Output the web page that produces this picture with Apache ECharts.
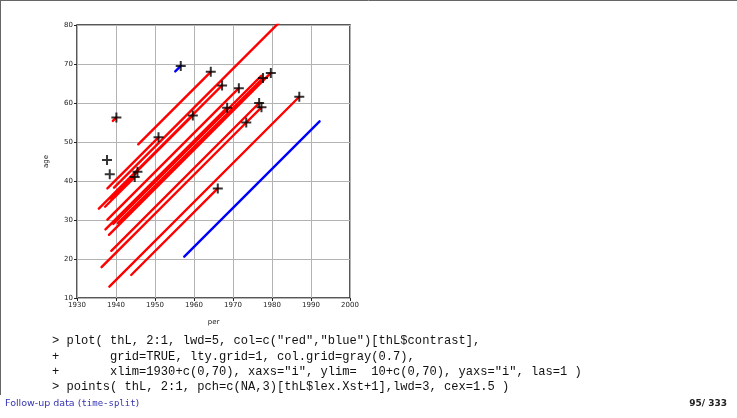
<!DOCTYPE html>
<html>
<head>
<meta charset="utf-8">
<script src="https://cdn.jsdelivr.net/npm/echarts@6/dist/echarts.min.js"></script>
<style>
html,body{margin:0;padding:0;background:#fff;}
#c{width:737px;height:418px;}
</style>
</head>
<body>
<div id="c"></div>
<script>
// Follow-up segments (Lexis lines): period and age at entry / exit
const startPer = [1945.7, 1939.5, 1935.6, 1939.0, 1937.8, 1937.3, 1939.3, 1940.5, 1938.2, 1938.8, 1936.3, 1973.4, 1938.3, 1943.9, 1937.8, 1939.2, 1937.7, 1938.4, 1937.2, 1938.6, 1957.5, 1955.2];
const startAge = [49.4, 38.3, 32.9, 36.1, 30.1, 27.6, 29.0, 29.2, 26.2, 22.1, 17.9, 55.0, 12.9, 15.9, 38.1, 55.4, 45.4, 41.75, 33.4, 35.5, 20.6, 68.1];
const endPer   = [1964.3, 1985.0, 1967.2, 1959.7, 1971.5, 1968.5, 1977.3, 1977.7, 1979.7, 1976.7, 1973.4, 1977.3, 1987.0, 1966.1, 1950.9, 1940.1, 1937.7, 1938.4, 1944.8, 1945.5, 1992.2, 1956.6];
const endAge   = [68.0, 83.8, 64.5, 56.8, 63.8, 58.8, 67.0, 66.4, 67.7, 60.0, 55.0, 58.9, 61.6, 38.1, 51.2, 56.3, 45.4, 41.75, 41.0, 42.4, 55.3, 69.5];
const contrast = [1, 1, 1, 1, 1, 1, 1, 1, 1, 1, 1, 1, 1, 1, 1, 1, 1, 1, 1, 1, 2, 2];
const exitState = [1, 0, 1, 1, 1, 1, 0, 1, 1, 1, 1, 1, 1, 1, 1, 1, 1, 1, 1, 1, 0, 1];
const xTicks = [1930, 1940, 1950, 1960, 1970, 1980, 1990, 2000];
const yTicks = [10, 20, 30, 40, 50, 60, 70, 80];
const codeLines = [
  '> plot( thL, 2:1, lwd=5, col=c("red","blue")[thL$contrast],',
  '+       grid=TRUE, lty.grid=1, col.grid=gray(0.7),',
  '+       xlim=1930+c(0,70), xaxs="i", ylim=  10+c(0,70), yaxs="i", las=1 )',
  '> points( thL, 2:1, pch=c(NA,3)[thL$lex.Xst+1],lwd=3, cex=1.5 )'
];
const footerLeft = 'Follow-up data (';
const footerMono = 'time-split';
const footerPage = '95/ 333';

const colors = ['#ff0000', '#0000ff'];
const series = [];
for (let i = 0; i < startPer.length; i++) {
  series.push({
    type: 'line',
    data: [[startPer[i], startAge[i]], [endPer[i], endAge[i]]],
    showSymbol: false,
    symbol: 'none',
    silent: true,
    clip: true,
    lineStyle: { color: colors[contrast[i] - 1], width: 2.4, cap: 'round' },
    z: 3
  });
}
const pts = [];
for (let i = 0; i < startPer.length; i++) {
  if (exitState[i] === 1) pts.push([endPer[i], endAge[i]]);
}
series.push({
  type: 'scatter',
  data: pts,
  symbol: 'path://M-0.2,-1H0.2V-0.2H1V0.2H0.2V1H-0.2V0.2H-1V-0.2H-0.2Z',
  symbolSize: 10,
  itemStyle: { color: '#000' },
  silent: true,
  z: 5
});

const graphics = [];
codeLines.forEach((t, k) => {
  graphics.push({
    type: 'text', left: 52, top: 335 + k * 15.3,
    style: { text: t, font: '12.1px "Liberation Mono", monospace', fill: '#111' }
  });
});
graphics.push({
  type: 'text', left: 5, top: 399,
  style: {
    text: '{a|' + footerLeft + '}{b|' + footerMono + '}{a|)}',
    rich: {
      a: { fontFamily: 'DejaVu Sans', fontSize: 9.5, fill: '#3333b3', color: '#3333b3' },
      b: { fontFamily: 'DejaVu Sans Mono', fontSize: 9, fill: '#3333b3', color: '#3333b3' }
    }
  }
});
graphics.push({
  type: 'text', right: 10, top: 399,
  style: { text: footerPage, font: 'bold 9px "DejaVu Sans"', fill: '#222' }
});
// slide frame
graphics.push({ type: 'line', shape: { x1: 0.5, y1: 0, x2: 0.5, y2: 395 }, style: { stroke: '#666', lineWidth: 1 } });
graphics.push({ type: 'line', shape: { x1: 0, y1: 0.5, x2: 737, y2: 0.5 }, style: { stroke: '#666', lineWidth: 1 } });

const chart = echarts.init(document.getElementById('c'), null, { renderer: 'canvas' });
chart.setOption({
  animation: false,
  backgroundColor: '#fff',
  grid: { left: 77, right: 387, top: 25, bottom: 120, show: true, borderColor: '#222', borderWidth: 1.5, backgroundColor: 'transparent' },
  xAxis: {
    type: 'value', min: 1930, max: 2000, interval: 10,
    name: 'per', nameLocation: 'middle', nameGap: 21,
    nameTextStyle: { fontSize: 7, color: '#222', fontFamily: 'DejaVu Sans' },
    axisLine: { show: false },
    axisTick: { show: true, length: 3, lineStyle: { color: '#222' } },
    axisLabel: { fontSize: 7, color: '#222', margin: 4, fontFamily: 'DejaVu Sans',
      formatter: v => xTicks.includes(v) ? String(v) : '' },
    splitLine: { show: true, lineStyle: { color: '#b3b3b3', width: 1 } }
  },
  yAxis: {
    type: 'value', min: 10, max: 80, interval: 10,
    name: 'age', nameLocation: 'middle', nameGap: 27,
    nameTextStyle: { fontSize: 7, color: '#222', fontFamily: 'DejaVu Sans' },
    axisLine: { show: false },
    axisTick: { show: true, length: 3, lineStyle: { color: '#222' } },
    axisLabel: { fontSize: 7, color: '#222', margin: 4, fontFamily: 'DejaVu Sans',
      formatter: v => yTicks.includes(v) ? String(v) : '' },
    splitLine: { show: true, lineStyle: { color: '#b3b3b3', width: 1 } }
  },
  graphic: graphics,
  series: series
});
</script>
</body>
</html>
